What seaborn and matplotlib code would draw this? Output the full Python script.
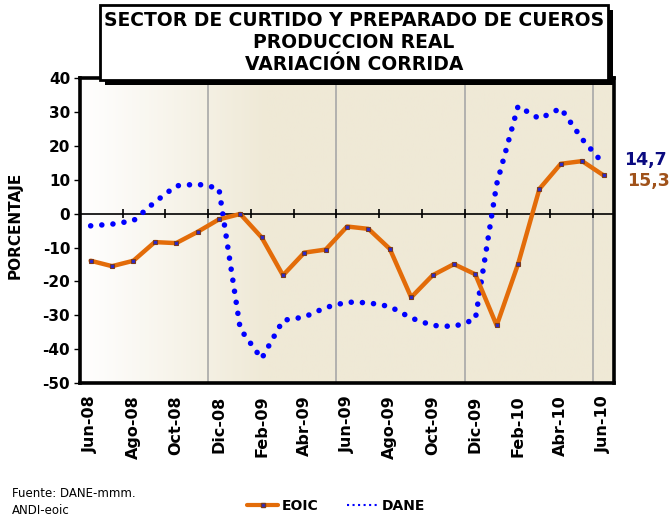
import numpy as np
import matplotlib
matplotlib.use('Agg')
import matplotlib.pyplot as plt
from matplotlib.colors import LinearSegmentedColormap
from matplotlib.patches import Rectangle
from matplotlib.lines import Line2D
import seaborn as sns
import pandas as pd

# Datos (variacion corrida, %)
meses = ["Jun-08", "Jul-08", "Ago-08", "Sep-08", "Oct-08", "Nov-08", "Dic-08",
         "Ene-09", "Feb-09", "Mar-09", "Abr-09", "May-09", "Jun-09", "Jul-09",
         "Ago-09", "Sep-09", "Oct-09", "Nov-09", "Dic-09", "Ene-10", "Feb-10",
         "Mar-10", "Abr-10", "May-10", "Jun-10"]
eoic = [-13.9, -15.5, -13.9, -8.4, -8.7, -5.4, -1.7, -0.1, -7.0, -18.2, -11.5,
        -10.6, -3.8, -4.5, -10.4, -24.7, -18.2, -14.9, -17.9, -33.0, -14.9,
        7.3, 14.7, 15.5, 11.3]
dane = [-3.6, -3.1, -2.1, 3.4, 8.2, 8.7, 7.5, -34.0, -42.8, -31.5, -30.5,
        -27.7, -26.1, -26.3, -27.4, -30.8, -33.0, -33.3, -31.2, 8.7, 31.7,
        28.0, 31.1, 22.0, 14.7]
etiquetas_fin = ["14,7", "15,3"]
y_ticks = list(range(-50, 41, 10))

df = pd.DataFrame({"pos": np.arange(len(meses)), "mes": meses,
                   "EOIC": eoic, "DANE": dane})

sns.set_style("white")
plt.rcParams['font.family'] = ['DejaVu Sans']
plt.rcParams['text.color'] = 'black'
plt.rcParams['xtick.color'] = 'black'
plt.rcParams['ytick.color'] = 'black'

fig = plt.figure(figsize=(6.72, 5.17), dpi=100)
ax = fig.add_axes([0.119, 0.259, 0.795, 0.590])

# fondo degradado blanco -> beige
cmap = LinearSegmentedColormap.from_list("fondo", ["#FFFFFF", "#EFE9D6"])
grad = np.clip(np.linspace(0, 1, 256) / 0.35, 0, 1).reshape(1, -1)
ax.imshow(grad, extent=[0, 1, 0, 1], transform=ax.transAxes, aspect='auto',
          cmap=cmap, zorder=0)

n = len(meses)
for xg in np.arange(5.5, n, 6):
    ax.axvline(xg, color="#A8A8A8", lw=1.2, zorder=1)
ax.axhline(0, color="black", lw=1.2, zorder=2)
ax.vlines(np.arange(1.5, n - 1, 2), -1.3, 1.3, color="black", lw=1.2, zorder=2)

sns.lineplot(data=df, x="pos", y="DANE", ax=ax, color="#0000FF", lw=4.0,
             zorder=3, label="DANE")
linea_dane = ax.lines[-1]
linea_dane.set_linestyle((0, (0.01, 2.0)))
linea_dane.set_dash_capstyle('round')

sns.lineplot(data=df, x="pos", y="EOIC", ax=ax, color="#E36C09", lw=3.2,
             marker="s", markersize=3, markerfacecolor="#2A2AD0",
             markeredgecolor="#7A3A20", markeredgewidth=0.8, zorder=4,
             label="EOIC")

ax.set_xlim(-0.5, n - 0.5)
ax.set_ylim(-50, 40)
ax.set_yticks(y_ticks)
ax.set_yticklabels([str(v) for v in y_ticks], fontweight="bold", fontsize=11)
ax.set_xticks(np.arange(0, n, 2))
ax.set_xticklabels(meses[::2], rotation=90, fontweight="bold", fontsize=11.5)
ax.tick_params(axis='y', direction='out', length=4, width=1, left=True, pad=3)
ax.tick_params(axis='x', length=0, pad=9)
ax.set_xlabel("")
ax.set_ylabel("")
ax.get_legend().remove()
for s in ax.spines.values():
    s.set_color("black")
    s.set_linewidth(2.6)
    s.set_zorder(6)

fig.text(0.022, 0.565, "PORCENTAJE", rotation=90, ha='center', va='center',
         fontweight="bold", fontsize=11)

# caja del titulo con sombra
x0, y0, w, h = 100 / 672, 1 - 80 / 517, 508 / 672, 75 / 517
fig.patches.append(Rectangle((x0 + 5 / 672, y0 - 5 / 517), w, h,
                             transform=fig.transFigure, facecolor="black",
                             edgecolor="none", zorder=7))
fig.patches.append(Rectangle((x0, y0), w, h, transform=fig.transFigure,
                             facecolor="white", edgecolor="black", lw=2,
                             zorder=8))
titulo = ["SECTOR DE CURTIDO Y PREPARADO DE CUEROS", "PRODUCCION REAL",
          "VARIACIÓN CORRIDA"]
for k, t in enumerate(titulo):
    fig.text(0.527, 0.961 - k * 0.0425, t, ha='center', va='center',
             fontweight="bold", fontsize=13.5, zorder=9)

fig.text(0.928, 0.690, etiquetas_fin[0], color="#0A0A80", fontweight="bold",
         fontsize=12.5, va='center')
fig.text(0.933, 0.649, etiquetas_fin[1], color="#A0521A", fontweight="bold",
         fontsize=12.5, va='center')

fig.text(0.018, 0.046, "Fuente: DANE-mmm.", fontsize=8.5, va='center')
fig.text(0.018, 0.013, "ANDI-eoic", fontsize=8.5, va='center')

handles = [Line2D([], [], color="#E36C09", lw=3, marker="s", markersize=3,
                  markerfacecolor="#2A2AD0", markeredgecolor="#7A3A20"),
           Line2D([], [], color="#0000FF", lw=1.5, linestyle=":")]
fig.legend(handles, ["EOIC", "DANE"], loc='center', ncol=2, frameon=False,
           bbox_to_anchor=(0.5, 0.021), prop={'weight': 'bold', 'size': 10},
           handlelength=2.2, handletextpad=0.3, columnspacing=2.0)

fig.savefig("out.png", dpi=100)
